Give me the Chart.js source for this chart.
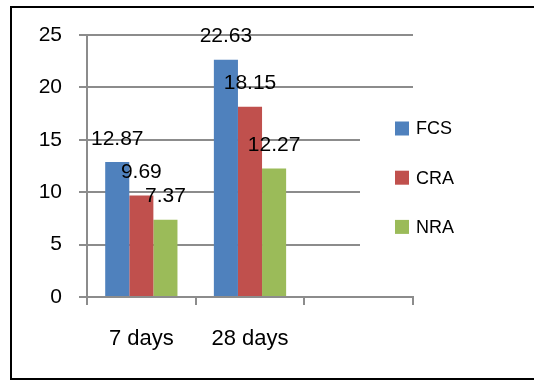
<!DOCTYPE html>
<html>
<head>
<meta charset="utf-8">
<script src="https://cdn.jsdelivr.net/npm/chart.js@4"></script>
<style>
  html, body { margin: 0; padding: 0; background: #fff; }
  #wrap { position: relative; width: 534px; height: 381px; overflow: hidden; }
  #frame { position: absolute; left: 10px; top: 6px; width: 600px; height: 370px; border: 2px solid #000; }
  #c { position: absolute; left: 0; top: 0; }
</style>
</head>
<body>
<div id="wrap">
  <div id="frame"></div>
  <canvas id="c" width="534" height="381"></canvas>
</div>
<script>
// Curing age categories (third slot left empty)
const categories = ['7 days', '28 days', ''];
// Series values per age
const seriesNames = ['FCS', 'CRA', 'NRA'];
const fcsValues = [12.87, 22.63, null];
const craValues = [9.69, 18.15, null];
const nraValues = [7.37, 12.27, null];
// Value axis ticks
const yTicks = [0, 5, 10, 15, 20, 25];

const colors = ['#4F81BD', '#C0504D', '#9BBB59'];
const gridColor = '#8c8c8c';
const fontFamily = "'Liberation Sans', Arial, sans-serif";

// Value labels above each bar
const valueLabels = {
  id: 'valueLabels',
  afterDatasetsDraw(chart) {
    const ctx = chart.ctx;
    ctx.save();
    ctx.fillStyle = '#000';
    ctx.font = '21px ' + fontFamily;
    ctx.textAlign = 'center';
    ctx.textBaseline = 'alphabetic';
    chart.data.datasets.forEach((ds, i) => {
      const meta = chart.getDatasetMeta(i);
      meta.data.forEach((bar, j) => {
        const v = ds.data[j];
        if (v === null || v === undefined) return;
        ctx.fillText(String(v), bar.x, bar.y - 17.5);
      });
    });
    ctx.restore();
  }
};

// Legend drawn on the right, over the plot area
const sideLegend = {
  id: 'sideLegend',
  afterDraw(chart) {
    const ctx = chart.ctx;
    const area = chart.chartArea;
    ctx.save();
    ctx.fillStyle = '#fff';
    ctx.fillRect(360, 100, area.right + 10 - 360, 165);
    ctx.font = '18px ' + fontFamily;
    ctx.textAlign = 'left';
    ctx.textBaseline = 'middle';
    chart.data.datasets.forEach((ds, i) => {
      const cy = 128.5 + i * 49.2;
      ctx.fillStyle = ds.backgroundColor;
      ctx.fillRect(395, cy - 7, 14, 14);
      ctx.fillStyle = '#000';
      ctx.fillText(ds.label, 416, cy + 1);
    });
    ctx.restore();
  }
};

const seriesData = [fcsValues, craValues, nraValues];

new Chart(document.getElementById('c'), {
  type: 'bar',
  data: {
    labels: categories,
    datasets: seriesNames.map((name, i) => ({
      label: name,
      data: seriesData[i],
      backgroundColor: colors[i],
      borderWidth: 0,
      barPercentage: 1,
      categoryPercentage: 0.665
    }))
  },
  options: {
    responsive: false,
    animation: false,
    events: [],
    layout: { padding: { top: 35, right: 121, left: 0, bottom: 0 } },
    plugins: {
      legend: { display: false },
      tooltip: { enabled: false }
    },
    scales: {
      x: {
        offset: true,
        afterFit(scale) { scale.height = 84; },
        grid: {
          offset: true,
          drawOnChartArea: false,
          drawTicks: true,
          tickLength: 8,
          color: gridColor,
          lineWidth: 2
        },
        border: { display: true, color: gridColor, width: 2 },
        ticks: {
          color: '#000',
          font: { family: fontFamily, size: 22 },
          padding: 21,
          maxRotation: 0
        }
      },
      y: {
        min: 0,
        max: 25,
        afterFit(scale) { scale.width = 87; },
        afterBuildTicks(scale) { scale.ticks = yTicks.map(v => ({ value: v })); },
        grid: {
          color: gridColor,
          lineWidth: 2,
          drawTicks: true,
          tickLength: 8
        },
        border: { display: true, color: gridColor, width: 2 },
        ticks: {
          color: '#000',
          font: { family: fontFamily, size: 21 },
          padding: 17
        }
      }
    }
  },
  plugins: [valueLabels, sideLegend]
});
</script>
</body>
</html>
